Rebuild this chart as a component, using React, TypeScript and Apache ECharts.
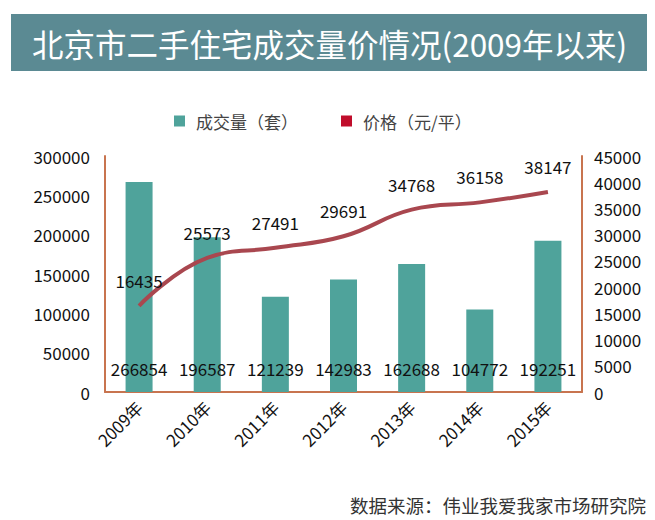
import React, { useEffect, useRef } from "react";
import * as echarts from "echarts";

const years = ["2009年", "2010年", "2011年", "2012年", "2013年", "2014年", "2015年"];
const volume = [266854, 196587, 121239, 142983, 162688, 104772, 192251];
const price = [16435, 25573, 27491, 29691, 34768, 36158, 38147];
const titleText = "北京市二手住宅成交量价情况(2009年以来)";
const sourceText = "数据来源：伟业我爱我家市场研究院";

const FONT = "'Noto Sans CJK SC', 'Noto Sans', sans-serif";

export default function App() {
  const ref = useRef<HTMLDivElement>(null);
  useEffect(() => {
    if (!ref.current) return;
    const chart = echarts.init(ref.current, undefined, { renderer: "svg" });
    chart.setOption({
      animation: false,
      backgroundColor: "#ffffff",
      textStyle: { fontFamily: FONT },
      graphic: [
        { type: "rect", shape: { x: 3, y: 6, width: 636, height: 57 }, style: { fill: "#5b8a93" } },
        {
          type: "text", x: 24, y: 35,
          style: { text: titleText, fill: "#ffffff", font: `31.5px ${FONT}`, verticalAlign: "middle" },
        },
        {
          type: "text", x: 638, y: 497,
          style: { text: sourceText, fill: "#333333", font: `18.5px ${FONT}`, align: "right", verticalAlign: "middle" },
        },
      ],
      legend: {
        top: 99,
        left: 161,
        itemWidth: 11,
        itemHeight: 11,
        itemGap: 43,
        icon: "rect",
        textStyle: { fontSize: 17, lineHeight: 18, color: "#444", fontFamily: FONT, padding: [0, 0, 0, 6] },
        data: [
          { name: "成交量（套）", itemStyle: { color: "#4fa39b" } },
          { name: "价格（元/平）", itemStyle: { color: "#c00d2b" } },
        ],
      },
      grid: { left: 97, right: 81, top: 148, bottom: 136 },
      xAxis: {
        type: "category",
        data: years,
        axisLine: { show: true, lineStyle: { color: "#c8744f", width: 2 } },
        axisTick: { show: false },
        axisLabel: { interval: 0, rotate: 45, fontSize: 17, color: "#111", margin: 12, fontFamily: FONT },
      },
      yAxis: [
        {
          type: "value", min: 0, max: 300000, interval: 50000,
          axisLine: { show: true, lineStyle: { color: "#c8744f", width: 2 } },
          axisTick: { show: false },
          splitLine: { show: false },
          axisLabel: { fontSize: 17, color: "#111", margin: 15, fontFamily: FONT, formatter: (v: number) => String(v) },
        },
        {
          type: "value", min: 0, max: 45000, interval: 5000,
          axisLine: { show: true, lineStyle: { color: "#c8744f", width: 2 } },
          axisTick: { show: false },
          splitLine: { show: false },
          axisLabel: { fontSize: 17, color: "#111", margin: 12, fontFamily: FONT, formatter: (v: number) => String(v) },
        },
      ],
      series: [
        {
          name: "成交量（套）",
          type: "bar",
          data: volume,
          barWidth: 27,
          itemStyle: { color: "#4fa39b" },
          label: {
            show: true, position: "insideBottom", distance: 15,
            fontSize: 17, color: "#111", fontFamily: FONT,
          },
        },
        {
          name: "价格（元/平）",
          type: "line",
          yAxisIndex: 1,
          data: price,
          smooth: 0.45,
          symbol: "circle",
          symbolSize: 0,
          showSymbol: true,
          itemStyle: { color: "#c00d2b" },
          lineStyle: { color: "#a9474f", width: 4 },
          label: {
            show: true, position: "top", distance: 17,
            fontSize: 17, color: "#111", fontFamily: FONT,
          },
          labelLayout: { hideOverlap: false },
        },
      ],
    });
    return () => chart.dispose();
  }, []);
  return <div ref={ref} style={{ width: 655, height: 520 }} />;
}
